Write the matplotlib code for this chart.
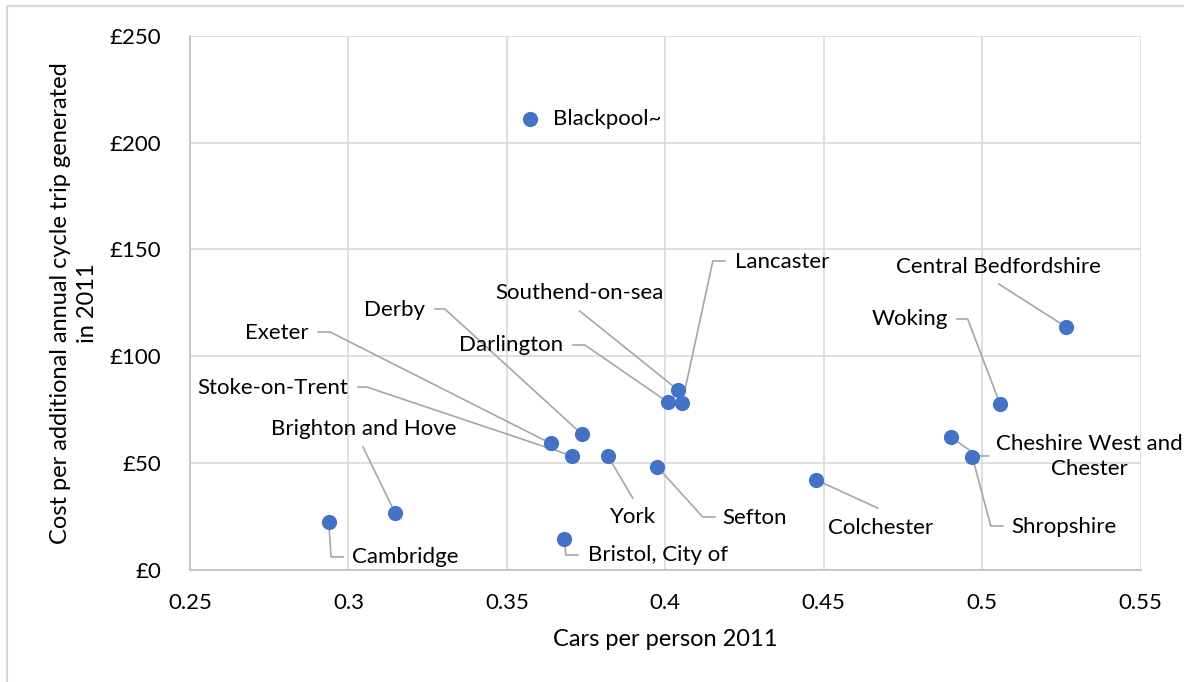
import matplotlib
matplotlib.use("Agg")
import matplotlib.pyplot as plt
from matplotlib.patches import Rectangle

# data
places = ["Cambridge", "Brighton and Hove", "Stoke-on-Trent", "Exeter", "Derby",
          "York", "Sefton", "Bristol, City of", "Darlington", "Southend-on-sea",
          "Lancaster", "Colchester", "Central Bedfordshire", "Woking",
          "Cheshire West and\nChester", "Shropshire", "Blackpool~"]
cars_per_person = [0.2938, 0.3147, 0.3704, 0.3638, 0.3736,
                   0.3818, 0.3974, 0.3681, 0.4009, 0.4040,
                   0.4053, 0.4474, 0.5263, 0.5056,
                   0.4900, 0.4969, 0.3574]
cost_per_trip = [22.4, 26.5, 53.3, 59.1, 63.5,
                 53.3, 48.2, 14.4, 78.3, 84.1,
                 78.2, 42.1, 113.8, 77.6,
                 62.1, 52.6, 211.1]

x_ticks = [0.25, 0.3, 0.35, 0.4, 0.45, 0.5, 0.55]
y_ticks = [0, 50, 100, 150, 200, 250]

# label layout: text position, alignment, leader-line bends (data units)
label_layout = {
    "Cambridge": ((0.3011, 5.9), "left", [(0.2983, 5.9), (0.2945, 5.9)]),
    "Brighton and Hove": ((0.3047, 65.8), "center", [(0.3046, 57.4)]),
    "Stoke-on-Trent": ((0.2998, 85.1), "right", [(0.3030, 85.5), (0.3058, 85.5)]),
    "Exeter": ((0.2875, 110.8), "right", [(0.2904, 111.3), (0.2942, 111.3)]),
    "Derby": ((0.3241, 121.6), "right", [(0.3273, 122.1), (0.3304, 122.1)]),
    "York": ((0.3897, 24.6), "center", [(0.3897, 33.5)]),
    "Sefton": ((0.4181, 24.1), "left", [(0.4156, 24.6), (0.4118, 24.6)]),
    "Bristol, City of": ((0.3756, 6.8), "left", [(0.3724, 6.8), (0.3686, 6.8)]),
    "Darlington": ((0.3677, 105.2), "right", [(0.3708, 105.2), (0.3746, 105.2)]),
    "Southend-on-sea": ((0.3729, 129.6), "center", [(0.3730, 121.1)]),
    "Lancaster": ((0.4219, 144.1), "left", [(0.4188, 144.6), (0.4150, 144.6)]),
    "Colchester": ((0.4513, 19.4), "left", [(0.4670, 28.8)]),
    "Central Bedfordshire": ((0.5050, 141.9), "center", [(0.5052, 133.8)]),
    "Woking": ((0.4891, 117.4), "right", [(0.4920, 117.4), (0.4954, 117.4)]),
    "Cheshire West and\nChester": ((0.5338, 52.9), "center", [(0.5020, 53.2), (0.4986, 53.2)]),
    "Shropshire": ((0.5093, 19.9), "left", [(0.5065, 20.4), (0.5027, 20.4)]),
    "Blackpool~": ((0.3645, 211.1), "left", []),
}

plt.rcParams["font.family"] = ["Lato", "DejaVu Sans"]
FS = 16
grid_col = "#d9d9d9"
lead_col = "#a6a6a6"

fig = plt.figure(figsize=(11.84, 6.82), dpi=100)
ax = fig.add_axes([190 / 1184, 1 - 569.5 / 682, (1140.7 - 190) / 1184, (569.5 - 36) / 682])

# outer chart border (only top/left visible in the crop)
fig.patches.append(Rectangle((7 / 1184, -0.1), 1.2, 1 - 6 / 682 + 0.1,
                             transform=fig.transFigure, fill=False,
                             edgecolor=grid_col, linewidth=1.5))

ax.set_xlim(0.25, 0.55)
ax.set_ylim(0, 250)
ax.set_xticks(x_ticks)
ax.set_yticks(y_ticks)
ax.set_xticklabels([f"{t:g}" for t in x_ticks])
ax.set_yticklabels([f"£{t}" for t in y_ticks])
ax.tick_params(length=0, labelsize=FS, colors="black")
ax.tick_params(axis="x", pad=17)
ax.tick_params(axis="y", pad=21)
ax.grid(True, color=grid_col, linewidth=1.2)
ax.set_axisbelow(True)
for side in ["top", "right"]:
    ax.spines[side].set_visible(False)
for side in ["left", "bottom"]:
    ax.spines[side].set_color("#bfbfbf")
    ax.spines[side].set_linewidth(1.2)

# leader lines
for name, x, y in zip(places, cars_per_person, cost_per_trip):
    pos, ha, bends = label_layout[name]
    if bends:
        xs = [b[0] for b in bends] + [x]
        ys = [b[1] for b in bends] + [y]
        ax.plot(xs, ys, color=lead_col, linewidth=1.2, zorder=2)

ax.scatter(cars_per_person, cost_per_trip, s=120, color="#4472C4", zorder=3,
           linewidths=0)

for name in places:
    pos, ha, bends = label_layout[name]
    ax.text(pos[0], pos[1], name, ha=ha, va="center", fontsize=FS,
            multialignment="center" if "\n" in name else ha,
            linespacing=1.3, color="black", zorder=4)

fig.text(74 / 1184, 1 - 303.5 / 682,
         "Cost per additional annual cycle trip generated\nin 2011",
         rotation=90, ha="center", va="center", multialignment="center",
         fontsize=17, linespacing=1.35)
fig.text(665 / 1184, 1 - 640 / 682, "Cars per person 2011",
         ha="center", va="center", fontsize=17)

fig.savefig("out.png", dpi=100)
